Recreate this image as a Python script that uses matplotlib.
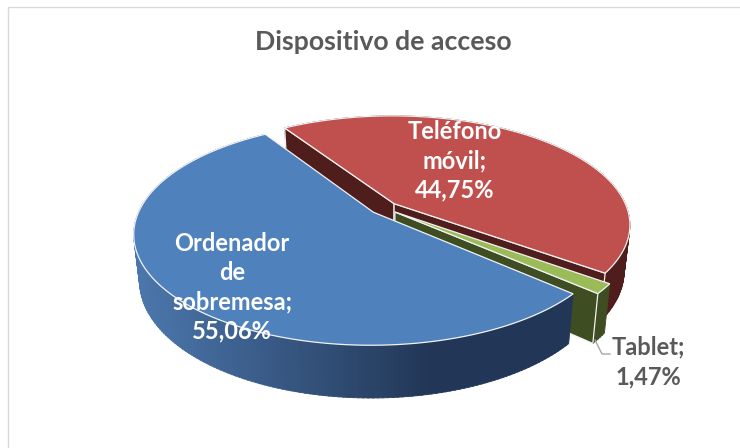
import numpy as np
import matplotlib
matplotlib.use("Agg")
import matplotlib.pyplot as plt
from matplotlib.colors import to_rgb

# ---- data ----
labels = ["Ordenador\nde\nsobremesa;\n55,06%", "Teléfono\nmóvil;\n44,75%", "Tablet;\n1,47%"]
values = [55.06, 44.75, 1.47]
title = "Dispositivo de acceso"

# ---- style / projection ----
top_colors = ["#4f81bd", "#c0504d", "#9bbb59"]
wall_colors = ["#24395a", "#4f1d1b", "#3f4d22"]
explode = [0.06, 0.06, 0.06]
START = 41.5   # angle where the first slice starts, clockwise on screen
CX, CY = 384, 208
A, B, K = 233, 106, 0.19
H, M = 46, 0.024

plt.rcParams['font.family'] = ['Lato', 'DejaVu Sans']


def project(u, v, deep=0.0):
    w = (1 - K * v) * (1 + M * deep)
    return CX + A * u / w, CY + (B * v + H * deep) / w


def arc(t1, t2, ox, oy, deep=0.0):
    t = np.radians(np.linspace(t1, t2, max(int(abs(t2 - t1)) * 2, 4)))
    return project(np.cos(t) + ox, np.sin(t) + oy, deep)


def blue_wall_color(x):
    # dark to the right, lighter to the left
    f = np.clip((x - 140) / 290, 0, 1)
    c0, c1 = np.array(to_rgb("#4b76ab")), np.array(to_rgb("#223757"))
    return tuple(c0 + (c1 - c0) * f)


def radial_face(ax, t, ox, oy, color):
    tr = np.radians(t)
    x0, y0 = project(ox, oy)
    x1, y1 = project(ox + np.cos(tr), oy + np.sin(tr))
    x2, y2 = project(ox + np.cos(tr), oy + np.sin(tr), 1)
    x3, y3 = project(ox, oy, 1)
    ax.fill([x0, x1, x2, x3], [y0, y1, y2, y3], fc=color, ec="#f2f2f2", lw=0.9)


def draw_slice(ax, i, t1, t2):
    mid = np.radians((t1 + t2) / 2)
    ox, oy = explode[i] * np.cos(mid), explode[i] * np.sin(mid)

    # outer wall, in small pieces so it can take a gradient
    steps = np.arange(t1, t2, 1.0)
    for s in steps:
        e = min(s + 1.2, t2)
        xa, ya = arc(s, e, ox, oy)
        xb, yb = arc(s, e, ox, oy, 1)
        col = blue_wall_color(xa.mean()) if i == 0 else wall_colors[i]
        ax.fill(np.r_[xa, xb[::-1]], np.r_[ya, yb[::-1]], fc=col, ec=col, lw=0.6)

    # cut faces turned to the viewer
    if i == 1:
        radial_face(ax, t1, ox, oy, wall_colors[i])
        radial_face(ax, t2, ox, oy, wall_colors[i])
    if i == 2:
        radial_face(ax, t2, ox, oy, wall_colors[i])

    # top
    xa, ya = arc(t1, t2, ox, oy)
    x0, y0 = project(ox, oy)
    ax.fill(np.r_[x0, xa], np.r_[y0, ya], fc=top_colors[i], ec="#f2f2f2", lw=0.9)


fig = plt.figure(figsize=(7.4, 4.48), dpi=100)
ax = fig.add_axes([0, 0, 1, 1])
ax.set_xlim(0, 740)
ax.set_ylim(448, 0)
ax.axis("off")

# chart frame
ax.plot([8, 8, 740], [448, 7.5, 7.5], color="#d9d9d9", lw=1)

spans = np.array(values) / sum(values) * 360
angles = START + np.r_[0, np.cumsum(spans)]

for i in [1, 2, 0]:
    draw_slice(ax, i, angles[i], angles[i + 1])

# leader for the small slice
ax.plot([595, 602, 610], [340, 354, 354], color="#a6a6a6", lw=1)

ax.text(383, 42, title, ha="center", va="center", fontsize=19.2, fontweight="bold", color="#595959")
ax.text(232, 287, labels[0], ha="center", va="center", fontsize=17, fontweight="bold",
        color="white", linespacing=1.33)
ax.text(455, 161, labels[1], ha="center", va="center", fontsize=17, fontweight="bold",
        color="white", linespacing=1.33)
ax.text(648, 362, labels[2], ha="center", va="center", fontsize=17, fontweight="bold",
        color="#595959", linespacing=1.33)

fig.savefig("out.png", dpi=100)
